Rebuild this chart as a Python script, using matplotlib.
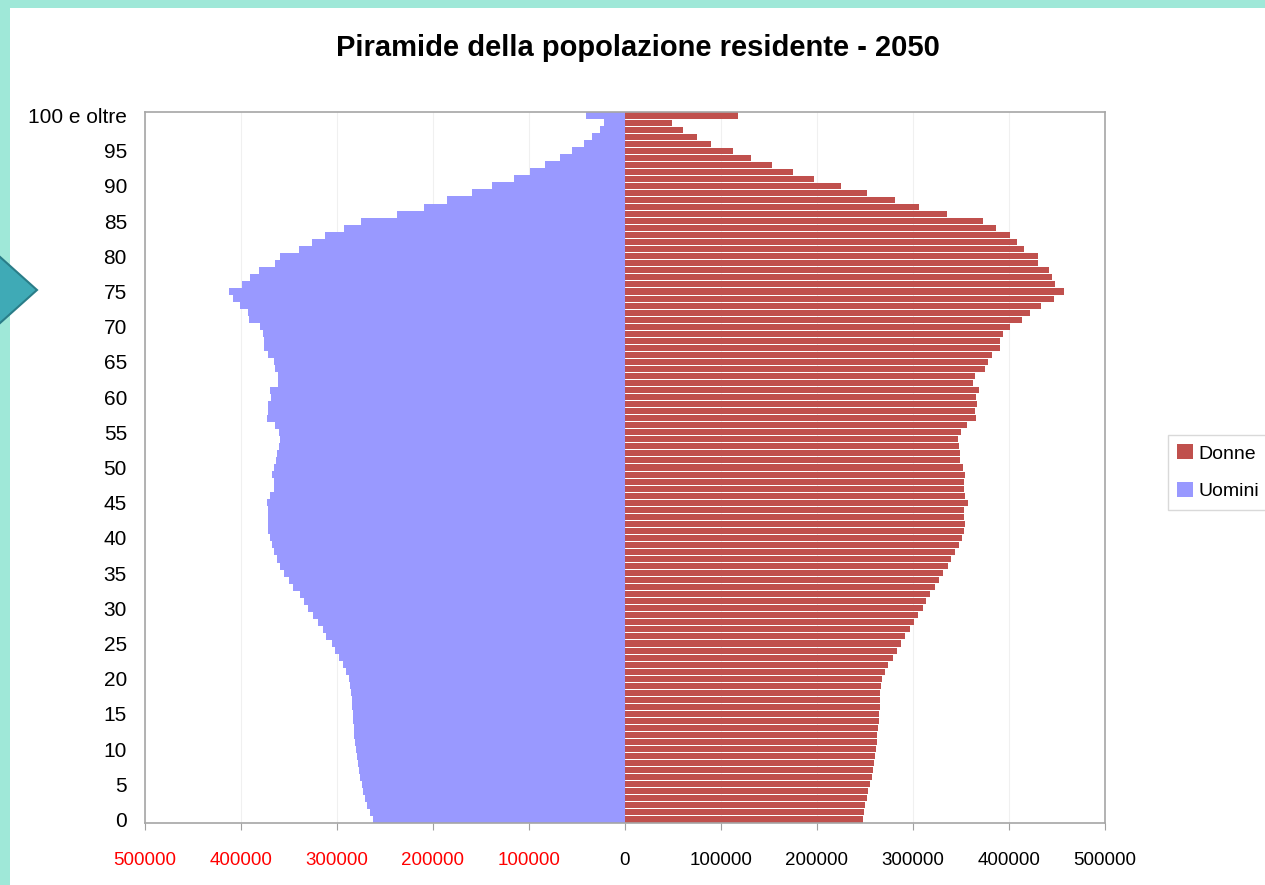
import numpy as np
import matplotlib
matplotlib.use("Agg")
import matplotlib.pyplot as plt
from matplotlib.patches import Rectangle, Polygon

plt.rcParams['font.family'] = ['Liberation Sans', 'DejaVu Sans']

# ---------------------------------------------------------------------------
#  Data: resident population by single year of age, 2050 (0 .. "100 e oltre")
# ---------------------------------------------------------------------------
ages = np.arange(101)

uomini = [263000, 266000, 269000, 271000, 272600, 274000, 275600, 277000, 278000, 279500,
          280000, 281000, 282000, 282000, 283000, 283700, 284000, 284700, 285700, 286500,
          288000, 290600, 293400, 297600, 302000, 305600, 311000, 315000, 319500, 324600,
          330000, 334000, 339000, 345500, 350000, 355000, 359000, 363000, 366000, 368000,
          370000, 372000, 372000, 371500, 371500, 372600, 370000, 366000, 366000, 368000,
          366000, 363500, 362000, 360000, 359000, 360000, 364600, 373000, 372000, 371500,
          369000, 370000, 361000, 361000, 364600, 366000, 371500, 376000, 376000, 377000,
          380000, 392000, 393000, 401000, 408000, 412000, 399000, 390600, 381000, 365000,
          359000, 340000, 326000, 312000, 293000, 275000, 238000, 209000, 185000, 159000,
          139000, 115600, 99000, 83000, 68000, 55600, 43000, 34700, 26000, 21500,
          41000]

donne = [247600, 249000, 250000, 252000, 253500, 255000, 257000, 258000, 259000, 260000,
         261500, 262000, 263000, 264000, 265000, 265000, 265600, 266000, 266000, 267000,
         268000, 271000, 274000, 279000, 283000, 287500, 292000, 297000, 301000, 305600,
         310000, 314000, 318000, 323000, 327000, 331600, 336000, 340000, 344000, 348000,
         351000, 353000, 354500, 353000, 353000, 357000, 354500, 353000, 353000, 354500,
         352000, 349000, 349000, 348000, 347000, 350000, 356600, 366000, 364600, 367000,
         366000, 369000, 362000, 364600, 375000, 378000, 382600, 390600, 390600, 394000,
         401000, 414000, 422000, 433000, 447000, 457000, 448000, 445000, 442000, 430000,
         430500, 415600, 408700, 401000, 386000, 373000, 335000, 306000, 281000, 252000,
         225000, 197000, 175000, 153000, 131000, 113000, 90000, 74600, 60000, 49000,
         118000]

x_ticks = np.arange(-500000, 500001, 100000)
y_ticks = np.arange(0, 101, 5)
y_labels = [str(a) for a in y_ticks[:-1]] + ["100 e oltre"]

title = "Piramide della popolazione residente - 2050"
col_donne = "#c0504d"
col_uomini = "#9999ff"

# ---------------------------------------------------------------------------
#  Figure
# ---------------------------------------------------------------------------
W, H = 1265, 885
fig = plt.figure(figsize=(W / 100, H / 100), dpi=100, facecolor="white")

# slide decoration: mint border strips and teal arrow
mint = "#9fe8d8"
fig.patches.append(Rectangle((0, 0), 10 / W, 1, transform=fig.transFigure,
                             facecolor=mint, edgecolor="none", zorder=0))
fig.patches.append(Rectangle((0, 1 - 8 / H), 1, 8 / H, transform=fig.transFigure,
                             facecolor=mint, edgecolor="none", zorder=0))
arrow_px = [(-10, 248), (37, 290), (-10, 332)]
fig.patches.append(Polygon([(x / W, 1 - y / H) for x, y in arrow_px], closed=True,
                           transform=fig.transFigure, facecolor="#3faab6",
                           edgecolor="#2a7d88", linewidth=1.5, zorder=1))

ax = fig.add_axes([145 / W, 1 - 823 / H, (1105 - 145) / W, (823 - 112) / H])

ax.barh(ages, -np.array(uomini), height=1.0, color=col_uomini, linewidth=0,
        label="Uomini", zorder=2)
ax.barh(ages, donne, height=0.86, color=col_donne, linewidth=0,
        label="Donne", zorder=2)

ax.set_xlim(-500000, 500000)
ax.set_ylim(-0.5, 100.5)

ax.set_xticks(x_ticks)
ax.set_xticklabels([str(abs(v)) for v in x_ticks], fontsize=13.5)
for lbl, v in zip(ax.get_xticklabels(), x_ticks):
    lbl.set_color("red" if v < 0 else "black")
ax.tick_params(axis="x", length=5, width=0.8, color="#a0a0a0", pad=16)

ax.set_yticks(y_ticks)
ax.set_yticklabels(y_labels, fontsize=15)
ax.tick_params(axis="y", length=0, pad=13)

ax.grid(axis="x", color="#f0f0f0", linewidth=0.8, zorder=0)
for s in ax.spines.values():
    s.set_color("#a6a6a6")
    s.set_linewidth(1.2)

fig.text(638 / W, 1 - 48 / H, title, ha="center", va="center",
         fontsize=21, fontweight="bold")

handles, labels = ax.get_legend_handles_labels()
leg = fig.legend(handles[::-1], labels[::-1], loc="upper left",
                 bbox_to_anchor=(1158 / W, 1 - 425 / H), fontsize=14,
                 frameon=True, fancybox=False, handlelength=0.8, handleheight=0.8,
                 handletextpad=0.3, borderpad=0.5, labelspacing=1.0)
leg.get_frame().set_edgecolor("#d0d0d0")
leg.get_frame().set_linewidth(1.0)

fig.savefig("out.png", dpi=100)
